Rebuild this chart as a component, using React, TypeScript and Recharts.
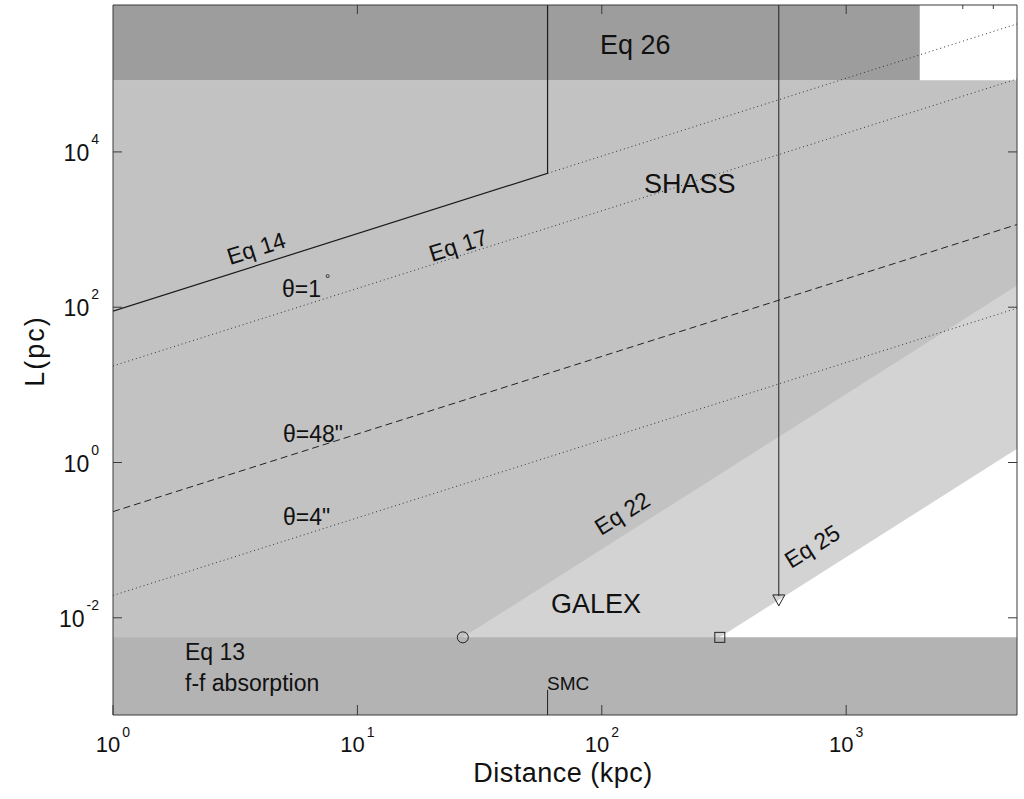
import React from "react";
import { ComposedChart, Area, Line, Scatter, XAxis, YAxis } from "recharts";

// axis ranges (kpc on x, pc on y)
const X_MIN = 1;
const X_MAX = 5000;
const Y_MIN = 0.00056;
const Y_MAX = 780000;

const xTicks = [1, 10, 100, 1000];
const xTopTicks = [10, 100, 1000, 3000, 4000];
const yTicks = [0.01, 1, 100, 10000];

// shaded regions
const shassDist = [1, 5000];
const shassTop = [84000, 84000];
const eq26Dist = [1, 2000];
const eq26Low = [84000, 84000];
const eq13Dist = [1, 5000];
const eq13Top = [0.0056, 0.0056];
const eq22Dist = [27, 5000];
const eq22L = [0.0056, 190];
const eq25Dist = [304, 5000];
const eq25L = [0.0056, 1.5];

// lines
const eq14Dist = [1, 60, 60];
const eq14L = [89, 5300, Y_MAX];
const eq14ExtDist = [60, 5000];
const eq14ExtL = [5300, 445000];
const theta1Dist = [1, 5000];
const theta1L = [17.5, 87000];
const theta48Dist = [1, 5000];
const theta48L = [0.233, 1160];
const theta4Dist = [1, 5000];
const theta4L = [0.0194, 97];
const galexLimDist = [530, 530];
const galexLimL = [Y_MAX, 0.019];
const smcDist = [60, 60];
const smcL = [Y_MIN, 0.00118];

// markers
const circlePts = [{ d: 27, l: 0.0056 }];
const squarePts = [{ d: 304, l: 0.0056 }];
const trianglePts = [{ d: 530, l: 0.017 }];

const FONT = "'Liberation Sans', Arial, Helvetica, sans-serif";
const FRAME = "#3a3a3a";

const rows = (xs: number[], ys: number[]) => xs.map((d, i) => ({ d, l: ys[i] }));
const band = (xs: number[], lo: number[], hi: number[]) =>
  xs.map((d, i) => ({ d, r: [lo[i], hi[i]] }));
const floor = (xs: number[]) => xs.map(() => Y_MIN);
const ceil = (xs: number[]) => xs.map(() => Y_MAX);

const exponent = (v: number) => Math.round(Math.log10(v));

const BottomTick = (props: any) => {
  const { x, y, payload } = props;
  return (
    <g>
      <line x1={x} y1={y} x2={x} y2={y - 10} stroke={FRAME} />
      <text x={x} y={y + 37} textAnchor="middle" fontSize={22} fontFamily={FONT} fill="#111">
        <tspan>10</tspan>
        <tspan dx={2} dy={-15} fontSize={14}>{exponent(payload.value)}</tspan>
      </text>
    </g>
  );
};

const LeftTick = (props: any) => {
  const { x, y, payload } = props;
  return (
    <g>
      <line x1={x} y1={y} x2={x + 9} y2={y} stroke={FRAME} />
      <text x={x - 14} y={y + 9} textAnchor="end" fontSize={23} fontFamily={FONT} fill="#111">
        <tspan>10</tspan>
        <tspan dx={2} dy={-17} fontSize={14}>{exponent(payload.value)}</tspan>
      </text>
    </g>
  );
};

const TopTick = (props: any) => {
  const { x, y, payload } = props;
  const major = exponent(payload.value) === Math.log10(payload.value);
  return <line x1={x} y1={y} x2={x} y2={y + (major ? 9 : 4)} stroke={FRAME} />;
};

const RightTick = (props: any) => {
  const { x, y } = props;
  return <line x1={x - 9} y1={y} x2={x} y2={y} stroke={FRAME} />;
};

const CircleMark = (p: any) => (
  <circle cx={p.cx} cy={p.cy} r={5.5} fill="none" stroke="#222" strokeWidth={1} />
);
const SquareMark = (p: any) => (
  <rect x={p.cx - 5} y={p.cy - 5} width={10} height={10} fill="none" stroke="#222" strokeWidth={1} />
);
const TriangleMark = (p: any) => (
  <polygon
    points={`${p.cx - 6},${p.cy - 5} ${p.cx + 6},${p.cy - 5} ${p.cx},${p.cy + 6}`}
    fill="none"
    stroke="#222"
    strokeWidth={1}
  />
);

const txt = { fontFamily: FONT, fill: "#111" } as const;

export default function App() {
  return (
    <div style={{ position: "absolute", left: 0, top: 0, width: 1024, height: 799, background: "#fff" }}>
      <ComposedChart
        width={1024}
        height={799}
        margin={{ top: 4, right: 6, bottom: 14, left: 13 }}
      >
        <Area
          data={band(shassDist, floor(shassDist), shassTop)}
          dataKey="r"
          type="linear"
          stroke="none"
          fill="#c2c2c2"
          fillOpacity={1}
          isAnimationActive={false}
        />
        <Area
          data={band(eq22Dist, floor(eq22Dist), eq22L)}
          dataKey="r"
          type="linear"
          stroke="none"
          fill="#d3d3d3"
          fillOpacity={1}
          isAnimationActive={false}
        />
        <Area
          data={band(eq25Dist, floor(eq25Dist), eq25L)}
          dataKey="r"
          type="linear"
          stroke="none"
          fill="#ffffff"
          fillOpacity={1}
          isAnimationActive={false}
        />
        <Area
          data={band(eq13Dist, floor(eq13Dist), eq13Top)}
          dataKey="r"
          type="linear"
          stroke="none"
          fill="#b3b3b3"
          fillOpacity={1}
          isAnimationActive={false}
        />
        <Area
          data={band(eq26Dist, eq26Low, ceil(eq26Dist))}
          dataKey="r"
          type="linear"
          stroke="none"
          fill="#9d9d9d"
          fillOpacity={1}
          isAnimationActive={false}
        />

        <Line data={rows(eq14Dist, eq14L)} dataKey="l" type="linear" stroke="#1a1a1a" strokeWidth={1.2} dot={false} activeDot={false} isAnimationActive={false} />
        <Line data={rows(eq14ExtDist, eq14ExtL)} dataKey="l" type="linear" stroke="#333" strokeWidth={1} strokeDasharray="1 3" dot={false} activeDot={false} isAnimationActive={false} />
        <Line data={rows(theta1Dist, theta1L)} dataKey="l" type="linear" stroke="#333" strokeWidth={1} strokeDasharray="1 3" dot={false} activeDot={false} isAnimationActive={false} />
        <Line data={rows(theta48Dist, theta48L)} dataKey="l" type="linear" stroke="#222" strokeWidth={1} strokeDasharray="7 4" dot={false} activeDot={false} isAnimationActive={false} />
        <Line data={rows(theta4Dist, theta4L)} dataKey="l" type="linear" stroke="#333" strokeWidth={1} strokeDasharray="1 3" dot={false} activeDot={false} isAnimationActive={false} />
        <Line data={rows(galexLimDist, galexLimL)} dataKey="l" type="linear" stroke="#222" strokeWidth={1} dot={false} activeDot={false} isAnimationActive={false} />
        <Line data={rows(smcDist, smcL)} dataKey="l" type="linear" stroke="#222" strokeWidth={1} dot={false} activeDot={false} isAnimationActive={false} />

        <Scatter data={circlePts} dataKey="l" shape={CircleMark} isAnimationActive={false} />
        <Scatter data={squarePts} dataKey="l" shape={SquareMark} isAnimationActive={false} />
        <Scatter data={trianglePts} dataKey="l" shape={TriangleMark} isAnimationActive={false} />

        <XAxis
          dataKey="d"
          type="number"
          scale="log"
          domain={[X_MIN, X_MAX]}
          allowDataOverflow
          ticks={xTicks}
          interval={0}
          height={70}
          tickSize={0}
          tickMargin={0}
          tickLine={false}
          axisLine={{ stroke: FRAME }}
          tick={BottomTick}
        />
        <XAxis
          xAxisId="top"
          orientation="top"
          dataKey="d"
          type="number"
          scale="log"
          domain={[X_MIN, X_MAX]}
          allowDataOverflow
          ticks={xTopTicks}
          interval={0}
          height={1}
          tickSize={0}
          tickMargin={0}
          tickLine={false}
          axisLine={{ stroke: FRAME }}
          tick={TopTick}
        />
        <YAxis
          type="number"
          scale="log"
          domain={[Y_MIN, Y_MAX]}
          allowDataOverflow
          ticks={yTicks}
          interval={0}
          width={100}
          tickSize={0}
          tickMargin={0}
          tickLine={false}
          axisLine={{ stroke: FRAME }}
          tick={LeftTick}
        />
        <YAxis
          yAxisId="right"
          orientation="right"
          type="number"
          scale="log"
          domain={[Y_MIN, Y_MAX]}
          allowDataOverflow
          ticks={yTicks}
          interval={0}
          width={1}
          tickSize={0}
          tickMargin={0}
          tickLine={false}
          axisLine={{ stroke: FRAME }}
          tick={RightTick}
        />
      </ComposedChart>

      <svg
        width={1024}
        height={799}
        style={{ position: "absolute", left: 0, top: 0, pointerEvents: "none" }}
      >
        <text x={600} y={54} fontSize={27} {...txt}>Eq 26</text>
        <text x={644} y={193} fontSize={27} {...txt}>SHASS</text>
        <text x={551} y={613} fontSize={27} {...txt}>GALEX</text>
        <text x={185} y={660} fontSize={23} {...txt}>Eq 13</text>
        <text x={185} y={691} fontSize={23} {...txt}>f-f absorption</text>
        <text x={547} y={690} fontSize={19} {...txt}>SMC</text>

        <text x={230} y={265} fontSize={23} transform="rotate(-17.6 230 265)" {...txt}>Eq 14</text>
        <text x={432} y={262} fontSize={23} transform="rotate(-17.6 432 262)" {...txt}>Eq 17</text>
        <text x={601} y={536} fontSize={23} transform="rotate(-32 601 536)" {...txt}>Eq 22</text>
        <text x={791} y={569} fontSize={23} transform="rotate(-32 791 569)" {...txt}>Eq 25</text>

        <text x={282} y={297} fontSize={23} {...txt}>
          <tspan>θ=1</tspan>
          <tspan dx={4} dy={-14} fontSize={13}>°</tspan>
        </text>
        <text x={283} y={442} fontSize={23} {...txt}>θ=48"</text>
        <text x={283} y={525} fontSize={23} {...txt}>θ=4"</text>

        <text
          x={37}
          y={351}
          fontSize={27}
          textAnchor="middle"
          letterSpacing={2}
          transform="rotate(-90 37 351)"
          dominantBaseline="middle"
          {...txt}
        >
          L(pc)
        </text>
        <text x={563} y={782} fontSize={27} textAnchor="middle" letterSpacing={0.5} {...txt}>
          Distance (kpc)
        </text>
      </svg>
    </div>
  );
}
